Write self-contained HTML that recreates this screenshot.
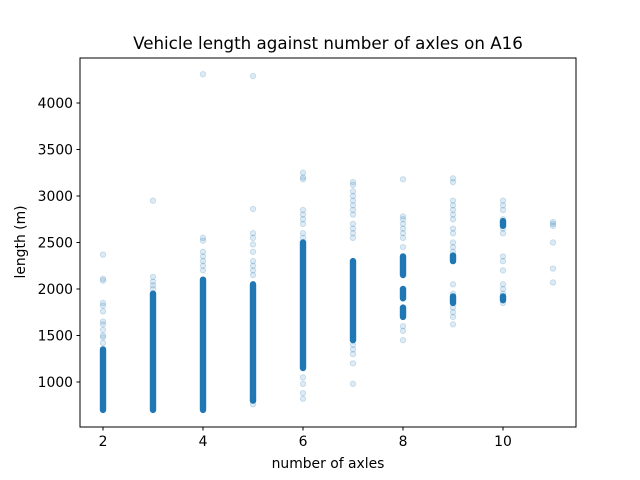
<!DOCTYPE html>
<html><head><meta charset="utf-8"><style>
body{margin:0;background:#fff}
svg{display:block;font-family:"DejaVu Sans","Liberation Sans",sans-serif}
</style></head><body>
<svg id="chart" width="640" height="480">
<rect width="640" height="480" fill="#fff"/>
<text x="328" y="49" text-anchor="middle" font-size="16.7">Vehicle length against number of axles on A16</text>
<g id="marks"></g>
<g id="axes"></g>
<text x="328" y="468" text-anchor="middle" font-size="13.9">number of axles</text>
<text transform="translate(25,242) rotate(-90)" text-anchor="middle" font-size="13.9">length (m)</text>
</svg>
<script>
const xTicks=[2,4,6,8,10];
const yTicks=[1000,1500,2000,2500,3000,3500,4000];
const bandAxles=[2,3,4,5,6,7,8,8,8,9,9,10,10];
const bandLo=[700,700,700,800,1150,1450,2150,1900,1700,2300,1850,2680,1880];
const bandHi=[1350,1950,2100,2050,2500,2300,2350,2000,1800,2360,1920,2730,1920];
const ptAxles=[2,2,2,2,2,2,2,2,2,2,2,2, 3,3,3,3,3, 4,4,4,4,4,4,4,4, 5,5,5,5,5,5,5,5,5,5,5,5, 6,6,6,6,6,6,6,6,6,6,6,6,6, 7,7,7,7,7,7,7,7,7,7,7,7,7,7,7,7,7, 8,8,8,8,8,8,8,8,8,8,8, 9,9,9,9,9,9,9,9,9,9,9,9,9,9,9,9,9,9, 10,10,10,10,10,10,10,10,10,10,10,10,10, 11,11,11,11,11,11];
const ptValues=[2370,2110,2090,1850,1820,1760,1650,1620,1560,1500,1480,1420, 2950,2130,2080,2040,2000, 4310,2550,2520,2400,2350,2300,2250,2200, 4290,2860,2600,2550,2480,2400,2300,2250,2200,2150,810,760, 3250,3200,3180,2850,2800,2750,2700,2600,2550,1050,980,880,820, 3150,3120,3050,3000,2950,2900,2850,2800,2700,2650,2600,2550,1400,1350,1300,1200,980, 3180,2780,2750,2700,2650,2600,2550,2450,1600,1550,1450, 3190,3150,2950,2900,2850,2800,2750,2650,2600,2500,2450,2400,2050,1950,1800,1750,1700,1620, 2950,2900,2850,2750,2650,2600,2350,2300,2200,2050,2000,1950,1850, 2720,2700,2680,2500,2220,2070];
const L=80,R=576,T=58,B=427,X0=1.54,X1=11.46,Y0=516,Y1=4484;
const sx=v=>L+(v-X0)/(X1-X0)*(R-L);
const sy=v=>B-(v-Y0)/(Y1-Y0)*(B-T);
const NS="http://www.w3.org/2000/svg";
const marks=document.getElementById('marks'),axes=document.getElementById('axes');
function mk(tag,a,p){const e=document.createElementNS(NS,tag);for(const k in a)e.setAttribute(k,a[k]);p.appendChild(e);return e;}
for(let i=0;i<bandAxles.length;i++){
  const y1=sy(bandHi[i]),y2=sy(bandLo[i]);
  const r=mk('rect',{x:sx(bandAxles[i])-3.2,y:y1-3.2,width:6.4,height:y2-y1+6.4,rx:3.2,fill:'#1f77b4'},marks);
  
  
}
for(let i=0;i<ptAxles.length;i++){
  const c=mk('circle',{cx:sx(ptAxles[i]),cy:sy(ptValues[i]),r:2.7,fill:'#1f77b4','fill-opacity':0.15,stroke:'#1f77b4','stroke-opacity':0.2,'stroke-width':1},marks);
  
  
}
mk('rect',{x:L,y:T,width:R-L,height:B-T,fill:'none',stroke:'#000','stroke-width':1},axes);
xTicks.forEach(t=>{const x=sx(t);
  mk('line',{x1:x,x2:x,y1:B,y2:B+3.5,stroke:'#000'},axes);
  const tx=mk('text',{x:x,y:B+19,'text-anchor':'middle','font-size':13.9},axes);tx.textContent=t;
  
  
});
yTicks.forEach(t=>{const y=sy(t);
  mk('line',{x1:L-3.5,x2:L,y1:y,y2:y,stroke:'#000'},axes);
  const tx=mk('text',{x:L-7,y:y+5,'text-anchor':'end','font-size':13.9},axes);tx.textContent=t;
  
  
});
</script>
</body></html>
